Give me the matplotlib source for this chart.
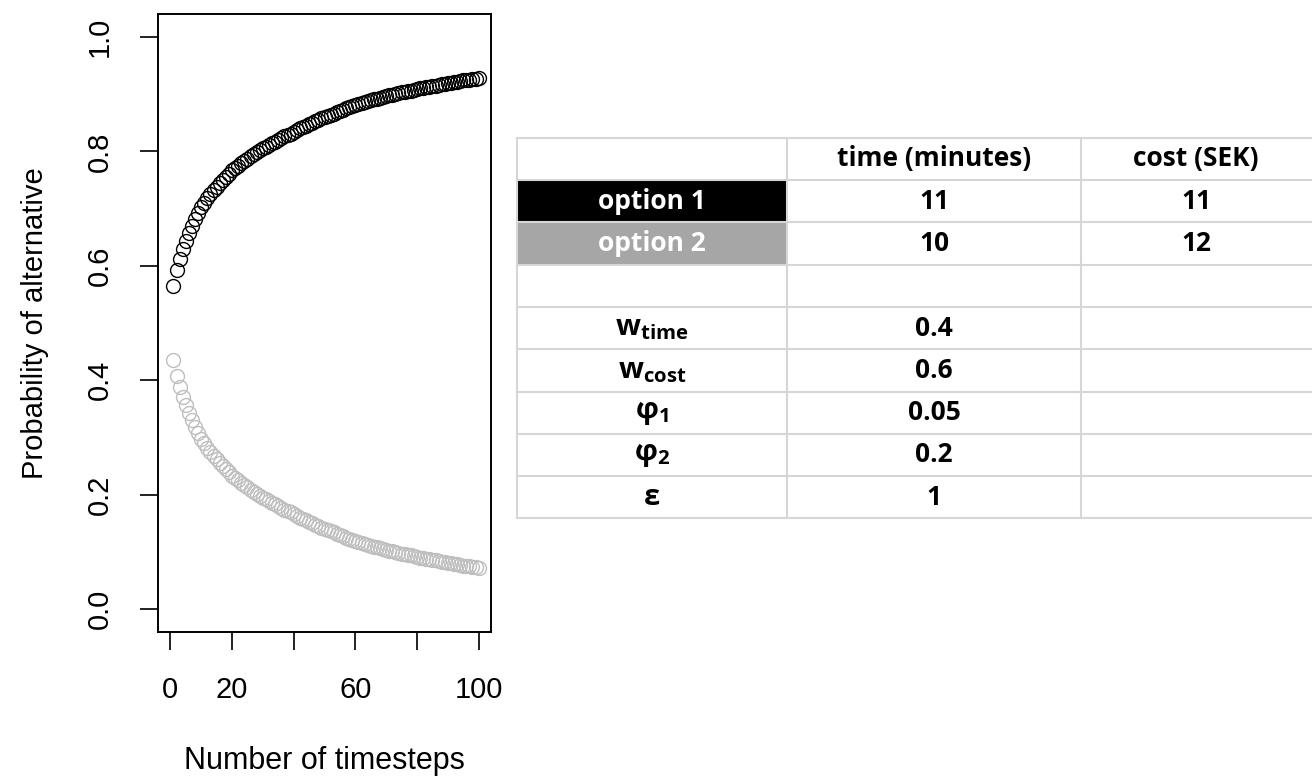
import matplotlib
matplotlib.use("Agg")
import matplotlib.pyplot as plt
from matplotlib.patches import Rectangle
import numpy as np

# series (probability of choosing each option per timestep)
TIMESTEPS = list(range(1, 101))
OPTION1_PROB = [
    0.564, 0.592, 0.612, 0.630, 0.644, 0.657, 0.669, 0.681, 0.692, 0.702,
    0.710, 0.718, 0.725, 0.732, 0.738, 0.744, 0.750, 0.755, 0.761, 0.767,
    0.771, 0.775, 0.779, 0.783, 0.787, 0.791, 0.795, 0.798, 0.802, 0.805,
    0.808, 0.811, 0.814, 0.817, 0.820, 0.823, 0.826, 0.829, 0.831, 0.834,
    0.837, 0.840, 0.843, 0.845, 0.848, 0.850, 0.853, 0.855, 0.858, 0.860,
    0.862, 0.864, 0.866, 0.868, 0.871, 0.873, 0.875, 0.877, 0.879, 0.881,
    0.883, 0.884, 0.886, 0.888, 0.889, 0.891, 0.892, 0.894, 0.895, 0.897,
    0.898, 0.899, 0.900, 0.902, 0.903, 0.904, 0.905, 0.906, 0.908, 0.909,
    0.910, 0.911, 0.912, 0.913, 0.914, 0.915, 0.916, 0.917, 0.918, 0.919,
    0.920, 0.921, 0.922, 0.923, 0.924, 0.924, 0.925, 0.926, 0.927, 0.928,
]
OPTION2_PROB = [
    0.436, 0.408, 0.388, 0.370, 0.356, 0.343, 0.331, 0.319, 0.308, 0.298,
    0.290, 0.282, 0.275, 0.268, 0.262, 0.256, 0.250, 0.245, 0.239, 0.233,
    0.229, 0.225, 0.221, 0.217, 0.213, 0.209, 0.205, 0.202, 0.198, 0.195,
    0.192, 0.189, 0.186, 0.183, 0.180, 0.177, 0.174, 0.171, 0.169, 0.166,
    0.163, 0.160, 0.157, 0.155, 0.152, 0.150, 0.147, 0.145, 0.142, 0.140,
    0.138, 0.136, 0.134, 0.132, 0.129, 0.127, 0.125, 0.123, 0.121, 0.119,
    0.117, 0.116, 0.114, 0.112, 0.111, 0.109, 0.108, 0.106, 0.105, 0.103,
    0.102, 0.101, 0.100, 0.098, 0.097, 0.096, 0.095, 0.094, 0.092, 0.091,
    0.090, 0.089, 0.088, 0.087, 0.086, 0.085, 0.084, 0.083, 0.082, 0.081,
    0.080, 0.079, 0.078, 0.077, 0.076, 0.076, 0.075, 0.074, 0.073, 0.072,
]
X_TICKS = [0, 20, 40, 60, 80, 100]
X_TICK_LABELS = ["0", "20", "", "60", "", "100"]
Y_TICKS = [0.0, 0.2, 0.4, 0.6, 0.8, 1.0]

# table content
TABLE_HEADER = ["", "time (minutes)", "cost (SEK)"]
ROW_LABELS = [
    "option 1",
    "option 2",
    "",
    r"$\mathrm{w}_{\mathrm{time}}$",
    r"$\mathrm{w}_{\mathrm{cost}}$",
    r"$\mathrm{φ}_{\mathrm{1}}$",
    r"$\mathrm{φ}_{\mathrm{2}}$",
    "ε",
]
TIME_VALUES = ["11", "10", "", "0.4", "0.6", "0.05", "0.2", "1"]
COST_VALUES = ["11", "12", "", "", "", "", "", ""]
ROW_FILLS = ["black", "#a6a6a6", None, None, None, None, None, None]
ROW_TEXT_COLORS = ["white", "white", "black", "black", "black", "black", "black", "black"]

BLACK = "black"
GRAY = "#bebebe"

plt.rcParams["font.family"] = ["Liberation Sans", "DejaVu Sans"]
plt.rcParams["mathtext.fontset"] = "custom"
plt.rcParams["mathtext.rm"] = "Open Sans:bold"
plt.rcParams["mathtext.it"] = "Open Sans:bold"
plt.rcParams["mathtext.bf"] = "Open Sans:bold"

fig = plt.figure(figsize=(13.12, 7.83), dpi=100)
ax = fig.add_axes([158 / 1312, 1 - 632 / 783, 333 / 1312, 618 / 783])

ax.plot(TIMESTEPS, OPTION1_PROB, "o", mfc="none", mec=BLACK, ms=10, mew=1.0)
ax.plot(TIMESTEPS, OPTION2_PROB, "o", mfc="none", mec=GRAY, ms=10, mew=1.0)

ax.set_xlim(-4, 104)
ax.set_ylim(-0.04, 1.04)
ax.set_xticks(X_TICKS)
ax.set_xticklabels(X_TICK_LABELS)
ax.set_yticks(Y_TICKS)
ax.set_yticklabels([f"{v:.1f}" for v in Y_TICKS], rotation=90, va="center")
for s in ax.spines.values():
    s.set_linewidth(1.4)
ax.tick_params(length=13, width=1.4, labelsize=21, pad=19, color="#222222")
ax.set_xlabel("Number of timesteps", fontsize=22, labelpad=30)
ax.set_ylabel("Probability of alternative", fontsize=21, labelpad=26)

# table drawn on an overlay in pixel coordinates
tab = fig.add_axes([0, 0, 1, 1])
tab.set_xlim(0, 1312)
tab.set_ylim(783, 0)
tab.axis("off")
tab.patch.set_visible(False)

col_edges = [517, 787, 1081, 1330]
top = 137.7
row_h = 42.3
n_rows = len(ROW_LABELS) + 1
line_col = "#d6d6d6"
tfont = dict(family=["Open Sans", "DejaVu Sans"], fontweight="bold", fontsize=19,
             ha="center", va="center")

for i, fill in enumerate(ROW_FILLS):
    if fill:
        y0 = top + row_h * (i + 1)
        tab.add_patch(Rectangle((col_edges[0], y0), col_edges[1] - col_edges[0], row_h,
                                facecolor=fill, edgecolor="none", zorder=1))

for k in range(n_rows + 1):
    y = top + row_h * k
    tab.plot([col_edges[0], col_edges[-1]], [y, y], color=line_col, lw=1.5, zorder=2)
for x in col_edges[:-1]:
    tab.plot([x, x], [top, top + row_h * n_rows], color=line_col, lw=1.5, zorder=2)

centers = [(col_edges[j] + col_edges[j + 1]) / 2 for j in range(2)] + [1196]
for j, txt in enumerate(TABLE_HEADER):
    tab.text(centers[j], top + row_h * 0.5, txt, color="black", zorder=3, **tfont)

for i, (lab, tv, cv) in enumerate(zip(ROW_LABELS, TIME_VALUES, COST_VALUES)):
    yc = top + row_h * (i + 1.5)
    size = 21 if lab.startswith("$") or lab == "ε" else 19
    opts = dict(tfont, fontsize=size)
    tab.text(centers[0], yc, lab, color=ROW_TEXT_COLORS[i], zorder=3, **opts)
    tab.text(centers[1], yc, tv, color="black", zorder=3, **tfont)
    tab.text(centers[2], yc, cv, color="black", zorder=3, **tfont)

fig.savefig("out.png", dpi=100)
